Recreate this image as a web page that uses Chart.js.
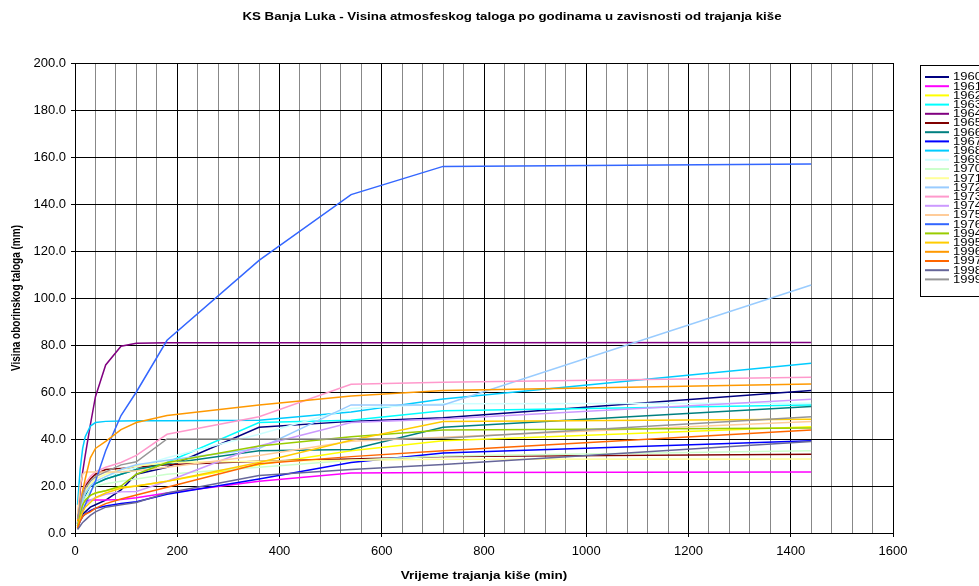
<!DOCTYPE html>
<html>
<head>
<meta charset="utf-8">
<script src="https://cdn.jsdelivr.net/npm/chart.js@4.4.0/dist/chart.umd.min.js"></script>
<style>
  html, body { margin: 0; padding: 0; background: #fff; overflow: hidden; }
  canvas { display: block; }
</style>
</head>
<body>
<canvas id="chart" width="979" height="586"></canvas>
<script>
"use strict";

// rain duration (min)
const durations = [5, 10, 15, 20, 30, 40, 60, 90, 120, 180, 360, 540, 720, 1440];

// precipitation height (mm) per year, one value per duration
const y1960 = [2, 6, 8, 9, 11, 12, 14, 18.3, 25, 28, 45, 47.5, 49, 60.6];
const y1961 = [4, 10, 13, 13.5, 14, 14, 14, 14.3, 15, 17, 22, 25.5, 25.7, 26];
const y1962 = [3, 8, 12, 14, 16, 17, 18, 19.5, 20, 22, 29, 35, 39.3, 45.2];
const y1963 = [4, 10, 14, 17, 20, 21, 23, 25, 27, 30, 47, 48, 52, 54.5];
const y1964 = [4, 18, 26, 33, 46, 58, 71.5, 79.5, 80.7, 81, 81, 81, 81, 81.1];
const y1965 = [4, 12, 17, 20, 23, 25, 27, 27.5, 28, 29, 30.5, 31.5, 32.5, 33.5];
const y1966 = [3, 8, 12, 16, 20, 21, 23, 25, 27, 29.5, 35, 35.5, 45, 53.8];
const y1967 = [2, 5, 7, 8, 9.5, 10.5, 11.5, 12.6, 13.3, 16.5, 23, 30, 34, 39.3];
const y1968 = [12, 27, 36, 41, 45.5, 47, 47.5, 47.7, 47.8, 47.8, 48, 51.5, 57, 72.2];
const y1969 = [4, 10, 14, 17, 20, 22, 24, 26, 28, 32, 42, 53, 55, 55.2];
const y1970 = [3, 8, 12, 15, 18, 20, 21, 22, 23, 25, 28, 31, 32.8, 35];
const y1971 = [4, 10, 15, 18, 21, 23, 25, 27, 28.5, 30, 30.5, 31, 31.4, 31.5];
const y1972 = [4, 10, 14, 17, 20, 22, 24, 27, 29, 31, 36, 54.5, 54.5, 105.5];
const y1973 = [5, 12, 18, 21, 24, 26, 28, 30, 33, 42, 49.5, 63.3, 64.1, 66.3];
const y1974 = [3, 7, 10, 12, 14, 15, 16.5, 17.5, 17.7, 22, 37, 47, 48.5, 56.9];
const y1975 = [8, 20, 25, 26, 26, 26, 26, 26, 26.5, 28, 33, 39, 40.7, 47.4];
const y1976 = [3, 6, 9, 12, 17, 22, 35, 50, 60, 82, 116, 144, 156, 157];
const y1994 = [3, 8, 12, 14, 16, 17, 18, 20, 25, 30, 37, 41, 43.8, 44.7];
const y1995 = [2, 6, 9, 11, 13, 15, 17, 19, 20, 22, 30, 39.5, 47.4, 48.4];
const y1996 = [5, 12, 18, 23, 32, 36, 39, 44, 47, 50, 54.5, 58.3, 60.6, 63.4];
const y1997 = [2, 5, 7, 8, 9, 10.5, 12.5, 14.5, 16.2, 19.5, 29.5, 32.5, 35, 43.8];
const y1998 = [1.5, 3, 4.5, 5.5, 7.5, 9, 11, 12, 13, 17, 24.5, 27, 29.2, 38.9];
const y1999 = [6, 12, 16, 19, 22, 24, 26, 29, 30.3, 40, 40, 40, 40.3, 49.5];

const years = ["1960", "1961", "1962", "1963", "1964", "1965", "1966", "1967", "1968", "1969",
  "1970", "1971", "1972", "1973", "1974", "1975", "1976", "1994", "1995", "1996", "1997", "1998", "1999"];
const series = [y1960, y1961, y1962, y1963, y1964, y1965, y1966, y1967, y1968, y1969,
  y1970, y1971, y1972, y1973, y1974, y1975, y1976, y1994, y1995, y1996, y1997, y1998, y1999];
const colors = ["#000080", "#ff00ff", "#ffff00", "#00ffff", "#800080", "#800000", "#008080", "#0000ff",
  "#00ccff", "#ccffff", "#ccffcc", "#ffff99", "#99ccff", "#ff99cc", "#cc99ff", "#ffcc99", "#3366ff",
  "#99cc00", "#ffcc00", "#ff9900", "#ff6600", "#666699", "#969696"];

const xTicks = ["0", "200", "400", "600", "800", "1000", "1200", "1400", "1600"];

const titleText = "KS Banja Luka - Visina atmosfeskog taloga po godinama u zavisnosti od trajanja kiše";
const xTitle = "Vrijeme trajanja kiše (min)";
const yTitle = "Visina oborinskog taloga (mm)";
const FONT = '"Liberation Sans", Arial, sans-serif';
const SQUASH = 0.86; // the excel picture text is a bit flatter than it is wide

let datasets = [];
for (let i = 0; i < years.length; i++) {
  datasets.push({
    label: years[i],
    data: durations.map((d, k) => ({ x: d, y: series[i][k] })),
    borderColor: colors[i],
    backgroundColor: colors[i],
    borderWidth: 1.5,
    pointRadius: 0,
    tension: 0,
    fill: false,
    order: -i, // later years drawn on top, like excel
  });
}

function flatText(ctx, text, x, y, sx, sy) {
  ctx.save();
  ctx.translate(x, y);
  ctx.scale(sx, sy);
  ctx.fillText(text, 0, 0);
  ctx.restore();
}

// title, axis titles and the excel style legend box
const excelExtras = {
  id: "excelExtras",
  afterDraw(chart) {
    let ctx = chart.ctx;
    let area = chart.chartArea;
    ctx.save();
    ctx.fillStyle = "#000";
    ctx.textAlign = "center";
    ctx.textBaseline = "middle";

    ctx.font = "bold 13.3px " + FONT;
    flatText(ctx, titleText, 512, 17, 1, SQUASH);

    ctx.font = "bold 13.5px " + FONT;
    flatText(ctx, xTitle, (area.left + area.right) / 2, 576, 1, SQUASH);

    ctx.save();
    ctx.translate(17, (area.top + area.bottom) / 2);
    ctx.rotate(-Math.PI / 2);
    ctx.font = "bold 12.5px " + FONT;
    flatText(ctx, yTitle, 0, 0, 0.8, 1);
    ctx.restore();

    ctx.strokeStyle = "#000";
    ctx.lineWidth = 1;
    ctx.strokeRect(920.5, 65.5, 120, 231);
    ctx.font = "13px " + FONT;
    ctx.textAlign = "left";
    chart.data.datasets.forEach((ds, i) => {
      let y = 77 + i * 9.2;
      ctx.strokeStyle = ds.borderColor;
      ctx.lineWidth = 2;
      ctx.beginPath();
      ctx.moveTo(925, y);
      ctx.lineTo(949, y);
      ctx.stroke();
      flatText(ctx, ds.label, 953, y + 0.5, 1, 0.8);
    });
    ctx.restore();
  },
};

new Chart(document.getElementById("chart"), {
  type: "line",
  data: { datasets: datasets },
  plugins: [excelExtras],
  options: {
    responsive: false,
    animation: false,
    devicePixelRatio: 1,
    layout: { padding: { top: 63, right: 86, left: 0, bottom: 0 } },
    plugins: {
      legend: { display: false },
      title: { display: false },
      tooltip: { enabled: false },
    },
    scales: {
      x: {
        type: "linear",
        min: 0,
        max: 1600,
        afterFit: (s) => { s.height = 53; },
        ticks: {
          stepSize: 40,
          autoSkip: false,
          maxRotation: 0,
          padding: 7,
          color: "#000",
          font: { family: FONT, size: 13 },
          callback: (v) => (v % 200 === 0 ? xTicks[v / 200] : ""),
        },
        grid: {
          color: (c) => (c.tick && c.tick.value % 200 === 0 ? "#000" : "#888"),
          lineWidth: 1,
          tickLength: 4,
          tickColor: (c) => (c.tick && c.tick.value % 200 === 0 ? "#000" : "rgba(0,0,0,0)"),
        },
        border: { color: "#000", width: 1 },
      },
      y: {
        min: 0,
        max: 200,
        afterFit: (s) => { s.width = 75; },
        ticks: {
          stepSize: 20,
          padding: 5,
          color: "#000",
          font: { family: FONT, size: 13 },
          callback: (v) => v.toFixed(1),
        },
        grid: { color: "#000", lineWidth: 1, tickLength: 4, tickColor: "#000" },
        border: { color: "#000", width: 1 },
      },
    },
  },
});
</script>
</body>
</html>
